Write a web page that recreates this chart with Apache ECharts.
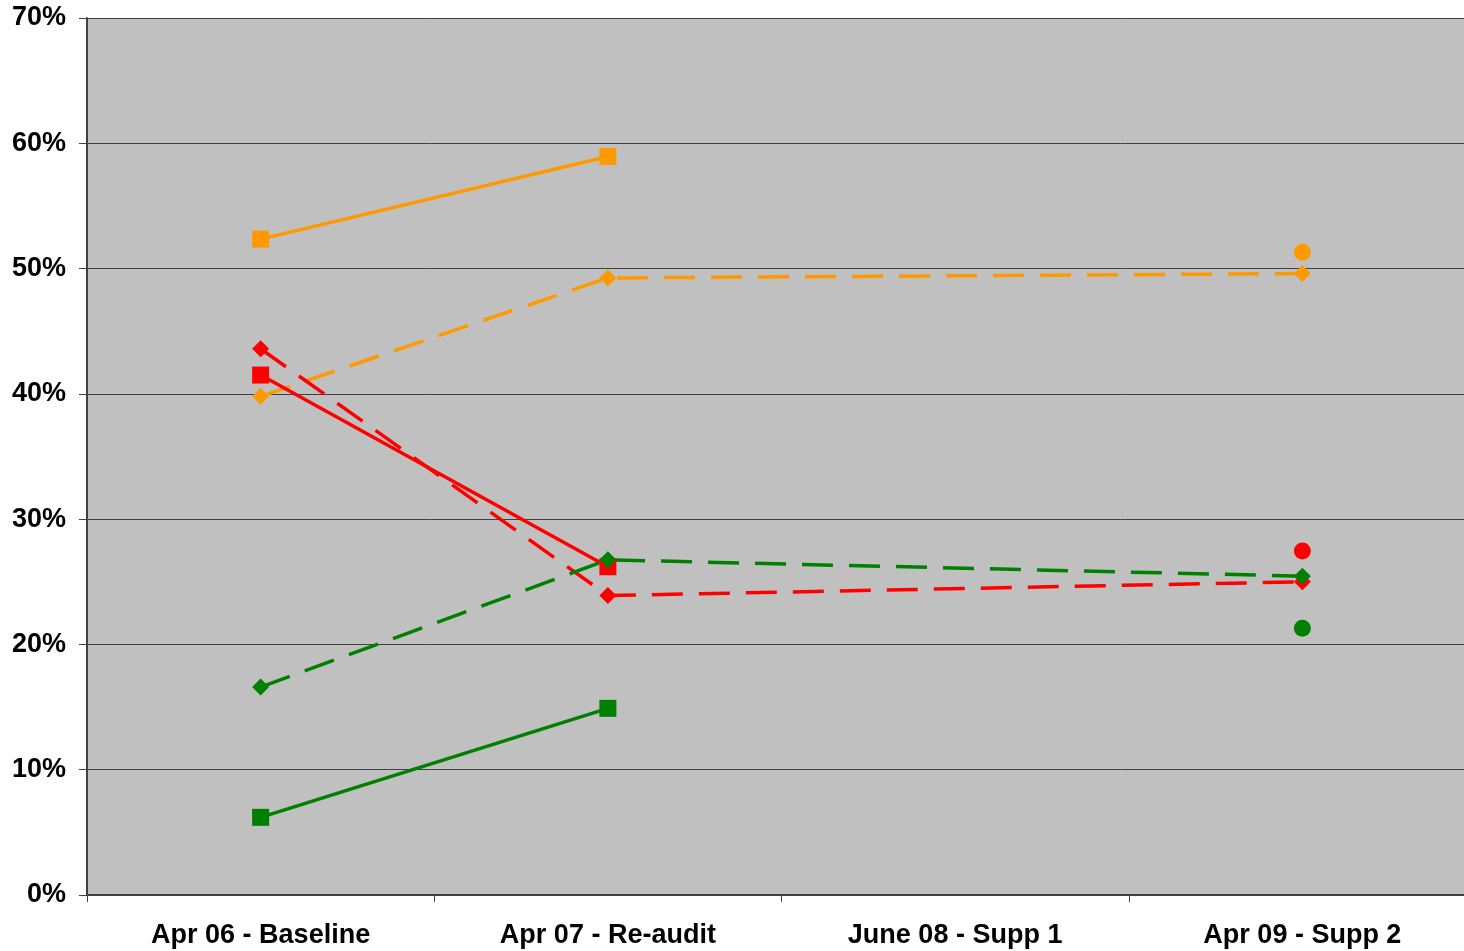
<!DOCTYPE html>
<html>
<head>
<meta charset="utf-8">
<script src="https://cdn.jsdelivr.net/npm/echarts@6/dist/echarts.min.js"></script>
<style>
html,body{margin:0;padding:0;background:#fff;overflow:hidden;}
#chart{width:1464px;height:951px;}
</style>
</head>
<body>
<div id="chart"></div>
<script>
const categories = ['Apr 06 - Baseline', 'Apr 07 - Re-audit', 'June 08 - Supp 1', 'Apr 09 - Supp 2'];
const yTicks = [0, 10, 20, 30, 40, 50, 60, 70];

const orangeSolid = [52.35, 58.95, null, null];
const orangeDashed = [39.8, 49.25, null, 49.6];
const orangeDot = [null, null, null, 51.3];

const redSolid = [41.5, 26.2, null, null];
const redDashed = [43.6, 23.9, null, 25.0];
const redDot = [null, null, null, 27.45];

const greenSolid = [6.2, 14.9, null, null];
const greenDashed = [16.6, 26.75, null, 25.45];
const greenDot = [null, null, null, 21.3];

const ORANGE = '#FF9900', RED = '#FF0000', GREEN = '#008000';

function solid(data, color) {
  return {type: 'line', data: data, symbol: 'rect', symbolSize: 17, showAllSymbol: true,
    lineStyle: {color: color, width: 3.5}, itemStyle: {color: color}, connectNulls: false, animation: false};
}
function dashed(data, color) {
  return {type: 'line', data: data, symbol: 'diamond', symbolSize: 17, showAllSymbol: true,
    lineStyle: {color: color, width: 3.5, type: [31, 16]}, itemStyle: {color: color}, connectNulls: true, animation: false};
}
function dot(data, color) {
  return {type: 'scatter', data: data, symbol: 'circle', symbolSize: 17, itemStyle: {color: color, opacity: 1}, animation: false};
}

const chart = echarts.init(document.getElementById('chart'), null, {renderer: 'canvas'});
chart.setOption({
  backgroundColor: '#ffffff',
  animation: false,
  grid: {left: 87, top: 18, width: 1389, height: 877, outerBoundsMode: 'none', containLabel: false,
    show: true, backgroundColor: '#C0C0C0', borderWidth: 0},
  xAxis: {
    type: 'category', data: categories, boundaryGap: true,
    axisLine: {lineStyle: {color: '#404040', width: 2}},
    axisTick: {show: true, length: 7, lineStyle: {color: '#404040', width: 1}},
    axisLabel: {color: '#000', fontFamily: 'Liberation Sans, Arial', fontWeight: 'bold', fontSize: 27, margin: 27}
  },
  yAxis: {
    type: 'value', min: 0, max: 70, interval: 10,
    axisLine: {show: true, lineStyle: {color: '#404040', width: 2}},
    axisTick: {show: true, length: 8, lineStyle: {color: '#404040', width: 1}},
    axisLabel: {color: '#000', fontFamily: 'Liberation Sans, Arial', fontWeight: 'bold', fontSize: 27, margin: 21,
      formatter: function (v) { return yTicks.indexOf(v) >= 0 ? v + '%' : ''; }},
    splitLine: {show: true, lineStyle: {color: '#404040', width: 1}}
  },
  series: [
    solid(orangeSolid, ORANGE), dashed(orangeDashed, ORANGE), dot(orangeDot, ORANGE),
    solid(redSolid, RED), dashed(redDashed, RED), dot(redDot, RED),
    solid(greenSolid, GREEN), dashed(greenDashed, GREEN), dot(greenDot, GREEN)
  ]
});
</script>
</body>
</html>
